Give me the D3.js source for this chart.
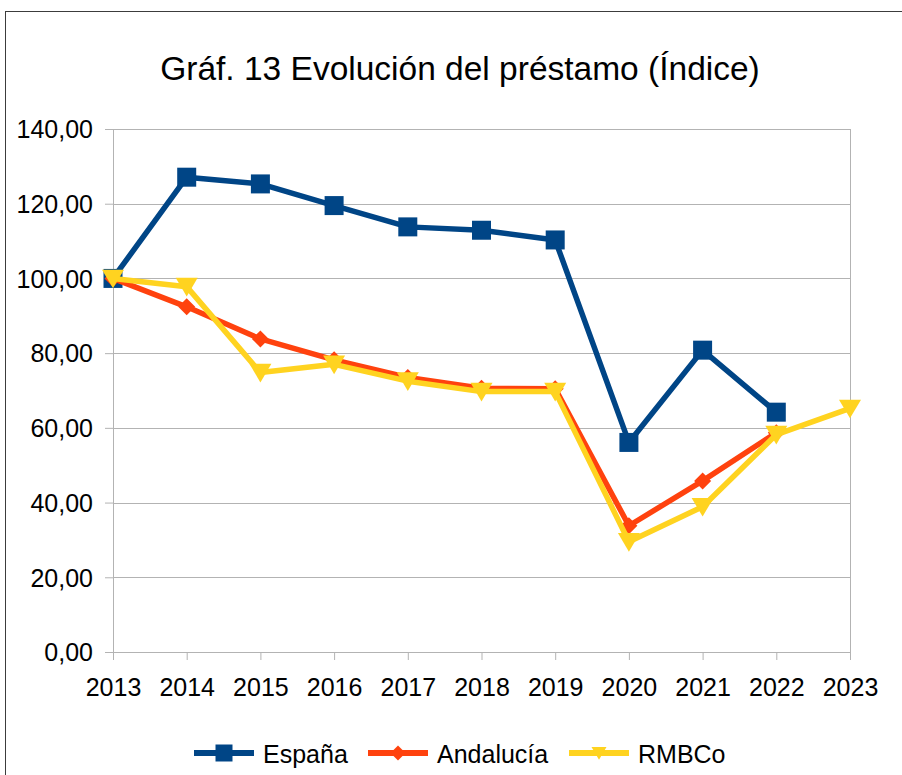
<!DOCTYPE html>
<html>
<head>
<meta charset="utf-8">
<script src="https://cdn.jsdelivr.net/npm/d3@7"></script>
<style>
  body { margin: 0; background: #fff; }
  text { font-family: "Liberation Sans", Arial, sans-serif; fill: #000; }
</style>
</head>
<body>
<div id="chart"></div>
<script>
let years = [2013, 2014, 2015, 2016, 2017, 2018, 2019, 2020, 2021, 2022, 2023]
let espana = [100, 127.1, 125.3, 119.5, 113.8, 112.9, 110.3, 56.1, 80.8, 64.2, null]
let andalucia = [100, 92.4, 83.8, 78.2, 73.5, 70.6, 70.5, 33.8, 45.8, 58.7, null]
let rmbco = [100, 97.8, 74.8, 77.0, 72.5, 69.7, 69.7, 29.5, 38.9, 58.2, 65.2]
let yTicks = [0, 20, 40, 60, 80, 100, 120, 140]

let series = [
  { name: 'España', values: espana, color: '#004586', marker: 'square' },
  { name: 'Andalucía', values: andalucia, color: '#ff420e', marker: 'diamond' },
  { name: 'RMBCo', values: rmbco, color: '#ffd320', marker: 'triangle' }
]

let width = 902
let height = 775
let plot = { left: 113, right: 850, top: 129, bottom: 652 }

let svg = d3.select('#chart')
  .append('svg')
  .attr('width', width)
  .attr('height', height)

// outer frame
svg.append('rect')
  .attr('x', 5.5)
  .attr('y', 11.5)
  .attr('width', 920)
  .attr('height', 800)
  .attr('fill', 'none')
  .attr('stroke', '#3c3c3c')
  .attr('stroke-width', 1)

svg.append('text')
  .attr('x', 460)
  .attr('y', 80)
  .attr('text-anchor', 'middle')
  .style('font-size', '33.5px')
  .text('Gráf. 13 Evolución del préstamo (Índice)')

let x = d3.scalePoint()
  .domain(years)
  .range([plot.left, plot.right])

let y = d3.scaleLinear()
  .domain([0, 140])
  .range([plot.bottom, plot.top])

let fmt = d => d3.format('.2f')(d).replace('.', ',')

// gridlines + y axis
let yAxis = svg.append('g')
  .attr('transform', `translate(${plot.left},0)`)
  .call(d3.axisLeft(y).tickValues(yTicks).tickSize(8).tickFormat(fmt).tickPadding(12))
yAxis.select('.domain').attr('stroke', '#b3b3b3')
yAxis.selectAll('.tick line').attr('stroke', '#b3b3b3')
yAxis.selectAll('.tick text').style('font-size', '25px').attr('dy', '0.35em')

svg.append('g')
  .selectAll('line')
  .data(yTicks)
  .join('line')
  .attr('x1', plot.left)
  .attr('x2', plot.right)
  .attr('y1', d => Math.round(y(d)) + 0.5)
  .attr('y2', d => Math.round(y(d)) + 0.5)
  .attr('stroke', '#b3b3b3')

svg.append('line')
  .attr('x1', plot.right + 0.5)
  .attr('x2', plot.right + 0.5)
  .attr('y1', plot.top)
  .attr('y2', plot.bottom)
  .attr('stroke', '#b3b3b3')

let xAxis = svg.append('g')
  .attr('transform', `translate(0,${plot.bottom})`)
  .call(d3.axisBottom(x).tickSize(8).tickPadding(18))
xAxis.select('.domain').attr('stroke', '#b3b3b3')
xAxis.selectAll('.tick line').attr('stroke', '#b3b3b3')
xAxis.selectAll('.tick text').style('font-size', '25px')

function markerPath(type, size) {
  let s = size / 2
  if (type == 'square') return `M${-s},${-s}H${s}V${s}H${-s}Z`
  if (type == 'diamond') return `M0,${-s}L${s},0L0,${s}L${-s},0Z`
  return `M${-s},${-s * 0.8}L${s},${-s * 0.8}L0,${s * 0.9}Z`
}
let markerSize = { square: 19, diamond: 17, triangle: 22 }
let legendMarkerSize = { square: 17, diamond: 15, triangle: 15 }

let line = d3.line()
  .defined(d => d.v != null)
  .x(d => x(d.year))
  .y(d => y(d.v))

series.forEach(s => {
  let pts = years.map((yr, i) => ({ year: yr, v: s.values[i] }))
  let g = svg.append('g')
  g.append('path')
    .datum(pts)
    .attr('d', line)
    .attr('fill', 'none')
    .attr('stroke', s.color)
    .attr('stroke-width', 5.5)
    .attr('stroke-linejoin', 'round')
  g.selectAll('path.marker')
    .data(pts.filter(d => d.v != null))
    .join('path')
    .attr('class', 'marker')
    .attr('d', markerPath(s.marker, markerSize[s.marker]))
    .attr('transform', d => `translate(${x(d.year)},${y(d.v)})`)
    .attr('fill', s.color)
})

// legend
let legendX = [194, 368, 569]
let legend = svg.append('g')
series.forEach((s, i) => {
  let lx = legendX[i]
  let ly = 753
  legend.append('line')
    .attr('x1', lx).attr('x2', lx + 60)
    .attr('y1', ly).attr('y2', ly)
    .attr('stroke', s.color)
    .attr('stroke-width', 6)
  legend.append('path')
    .attr('d', markerPath(s.marker, legendMarkerSize[s.marker]))
    .attr('transform', `translate(${lx + 30},${ly})`)
    .attr('fill', s.color)
  legend.append('text')
    .attr('x', lx + 69)
    .attr('y', ly)
    .attr('dy', '0.38em')
    .style('font-size', '25px')
    .text(s.name)
})
</script>
</body>
</html>
